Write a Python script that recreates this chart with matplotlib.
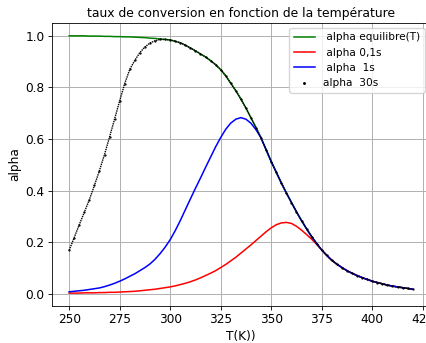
import numpy as np
import matplotlib
matplotlib.use('Agg')
import matplotlib.pyplot as plt


# temperatures (K), every 2.5 K
T = [250.0, 252.5, 255.0, 257.5, 260.0, 262.5, 265.0, 267.5, 270.0, 272.5,
     275.0, 277.5, 280.0, 282.5, 285.0, 287.5, 290.0, 292.5, 295.0, 297.5,
     300.0, 302.5, 305.0, 307.5, 310.0, 312.5, 315.0, 317.5, 320.0, 322.5,
     325.0, 327.5, 330.0, 332.5, 335.0, 337.5, 340.0, 342.5, 345.0, 347.5,
     350.0, 352.5, 355.0, 357.5, 360.0, 362.5, 365.0, 367.5, 370.0, 372.5,
     375.0, 377.5, 380.0, 382.5, 385.0, 387.5, 390.0, 392.5, 395.0, 397.5,
     400.0, 402.5, 405.0, 407.5, 410.0, 412.5, 415.0, 417.5, 420.0]

# equilibrium conversion
alpha_eq = [1.000, 1.000, 1.000, 1.000, 0.999, 0.999, 0.999, 0.998, 0.998, 0.997,
            0.997, 0.996, 0.996, 0.995, 0.994, 0.993, 0.991, 0.990, 0.988, 0.986,
            0.984, 0.979, 0.973, 0.964, 0.953, 0.942, 0.930, 0.918, 0.904, 0.888,
            0.869, 0.845, 0.816, 0.787, 0.755, 0.720, 0.682, 0.644, 0.604, 0.558,
            0.513, 0.471, 0.430, 0.391, 0.354, 0.318, 0.284, 0.252, 0.222, 0.195,
            0.170, 0.149, 0.130, 0.115, 0.102, 0.090, 0.080, 0.071, 0.063, 0.056,
            0.049, 0.044, 0.039, 0.034, 0.030, 0.027, 0.024, 0.021, 0.018]

# residence time 0.1 s
alpha_01 = [0.003, 0.003, 0.003, 0.004, 0.004, 0.004, 0.005, 0.005, 0.006, 0.006,
            0.007, 0.008, 0.009, 0.010, 0.012, 0.014, 0.016, 0.018, 0.021, 0.024,
            0.027, 0.031, 0.036, 0.041, 0.047, 0.054, 0.062, 0.071, 0.080, 0.090,
            0.102, 0.114, 0.128, 0.142, 0.158, 0.174, 0.190, 0.207, 0.224, 0.241,
            0.256, 0.268, 0.275, 0.277, 0.273, 0.262, 0.247, 0.230, 0.212, 0.192,
            0.170, 0.149, 0.130, 0.115, 0.102, 0.090, 0.080, 0.071, 0.063, 0.056,
            0.049, 0.044, 0.039, 0.034, 0.030, 0.027, 0.024, 0.021, 0.018]

# residence time 1 s
alpha_1 = [0.008, 0.010, 0.012, 0.014, 0.017, 0.020, 0.023, 0.028, 0.034, 0.041,
           0.049, 0.058, 0.068, 0.078, 0.090, 0.102, 0.116, 0.134, 0.156, 0.181,
           0.210, 0.245, 0.284, 0.326, 0.368, 0.409, 0.449, 0.490, 0.530, 0.570,
           0.606, 0.638, 0.662, 0.677, 0.683, 0.677, 0.661, 0.636, 0.604, 0.558,
           0.513, 0.471, 0.430, 0.391, 0.354, 0.318, 0.284, 0.252, 0.222, 0.195,
           0.170, 0.149, 0.130, 0.115, 0.102, 0.090, 0.080, 0.071, 0.063, 0.056,
           0.049, 0.044, 0.039, 0.034, 0.030, 0.027, 0.024, 0.021, 0.018]

# residence time 30 s
alpha_30 = [0.169, 0.218, 0.268, 0.316, 0.365, 0.420, 0.478, 0.540, 0.608, 0.678,
            0.748, 0.815, 0.870, 0.905, 0.935, 0.957, 0.972, 0.981, 0.986, 0.986,
            0.984, 0.979, 0.973, 0.964, 0.953, 0.942, 0.930, 0.918, 0.904, 0.888,
            0.869, 0.845, 0.816, 0.787, 0.755, 0.720, 0.682, 0.644, 0.604, 0.558,
            0.513, 0.471, 0.430, 0.391, 0.354, 0.318, 0.284, 0.252, 0.222, 0.195,
            0.170, 0.149, 0.130, 0.115, 0.102, 0.090, 0.080, 0.071, 0.063, 0.056,
            0.049, 0.044, 0.039, 0.034, 0.030, 0.027, 0.024, 0.021, 0.018]


plt.rcParams['xtick.major.size'] = 2.6
plt.rcParams['ytick.major.size'] = 2.6
plt.rcParams['xtick.major.pad'] = 2.6
plt.rcParams['ytick.major.pad'] = 2.6
plt.rcParams['xtick.major.width'] = 0.6
plt.rcParams['ytick.major.width'] = 0.6
plt.rcParams['axes.linewidth'] = 0.6

f = plt.figure(figsize=(4.26, 3.43), dpi=100)
ax = f.add_axes([0.122, 0.108, 0.887, 0.825])

ax.plot(T, alpha_eq, color='green', lw=1.1, label=' alpha equilibre(T)')
ax.plot(T, alpha_01, color='red', lw=1.1, label=' alpha 0,1s')
ax.plot(T, alpha_1, color='blue', lw=1.1, label=' alpha  1s')
# 30s points, drawn as a dense dotted trace
ax.plot(T, alpha_30, color='black', lw=1.0, ls=(0, (1, 0.6)))
ax.plot(T, alpha_30, color='black', ls='none', marker='.', markersize=1.2,
        label='alpha  30s')

ax.set_xticks([250, 275, 300, 325, 350, 375, 400, 425])
ax.set_yticks([0.0, 0.2, 0.4, 0.6, 0.8, 1.0])
ax.tick_params(labelsize=8.7)
ax.grid(True, lw=0.7)

ax.set_title('taux de conversion en fonction de la température', fontsize=8.9, pad=4.4)
ax.set_xlabel('T(K))', fontsize=8.7, labelpad=2.5)
ax.set_ylabel('alpha', fontsize=8.7, labelpad=3)
ax.legend(loc='upper right', fontsize=7.6, labelspacing=0.5, markerscale=1.8)

f.savefig('out.png', dpi=100)
